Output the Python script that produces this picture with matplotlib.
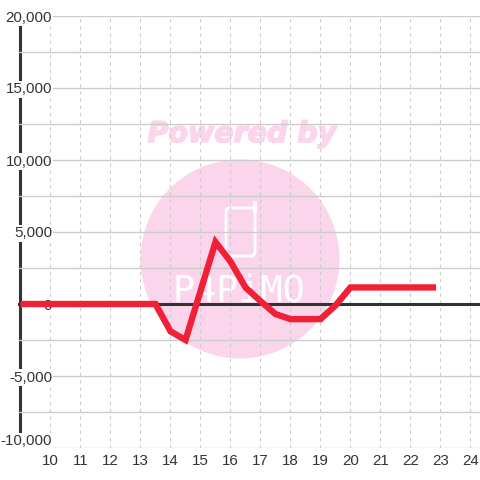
import matplotlib
matplotlib.use("Agg")
import matplotlib.pyplot as plt
import matplotlib.patheffects as pe
from matplotlib.patches import Circle, FancyBboxPatch, Rectangle
from matplotlib.ticker import FuncFormatter
from matplotlib.transforms import Affine2D

# ---- data ----
x_values = [9, 13.5, 14, 14.5, 15.5, 16, 16.5, 17, 17.5, 18, 19, 19.5, 20, 22.85]
y_values = [0, 0, -1900, -2500, 4300, 2950, 1150, 200, -700, -1050, -1050, -100, 1150, 1150]
x_ticks = list(range(10, 25))
y_major = [-10000, -5000, 0, 5000, 10000, 15000, 20000]
y_minor = [-7500, -2500, 2500, 7500, 12500, 17500]

PX = 480
TEXT = "#333333"
GRID = "#cccccc"
PINK = "#fbd5ec"

plt.rcParams["font.family"] = ["Liberation Sans", "DejaVu Sans"]
fig = plt.figure(figsize=(4.8, 4.8), dpi=100, facecolor="white")
ax = fig.add_axes([18 / PX, (PX - 448) / PX, (PX - 18) / PX, 432 / PX])
ax.patch.set_visible(False)

# watermark (below the axes), in pixel coordinates of the figure, y measured from top
pix = Affine2D().scale(1, -1).translate(0, PX) + Affine2D().scale(1 / PX) + fig.transFigure
fig.add_artist(Circle((240, 259), 99.5, transform=pix, facecolor=PINK, edgecolor="none", zorder=-5))
fig.add_artist(FancyBboxPatch((226, 208), 29, 48, boxstyle="round,pad=0,rounding_size=4",
                              transform=pix, facecolor="none", edgecolor="white", linewidth=2, zorder=-4))
fig.add_artist(Rectangle((253, 201), 3.5, 12, transform=pix, facecolor="white", edgecolor="none", zorder=-4))
fig.text(242, 134, "Powered by", transform=pix, color=PINK, fontsize=20.5, fontweight="bold",
         fontstyle="italic", family="DejaVu Sans", ha="center", va="center", zorder=-4,
         path_effects=[pe.withStroke(linewidth=1.2, foreground=PINK)])
fig.text(239, 291, "P4PiMO", transform=pix, color="white", fontsize=26.5,
         family="DejaVu Sans Mono", ha="center", va="center", zorder=-4)

ax.set_xlim(10 - 32.5 / 30, 10 + (PX - 50.5) / 30)
ax.set_ylim(-10000, 20000)
for s in ax.spines.values():
    s.set_visible(False)

ax.set_axisbelow(True)
ax.set_xticks(x_ticks)
ax.set_yticks(y_major)
ax.set_yticks(y_minor, minor=True)
ax.yaxis.set_major_formatter(FuncFormatter(lambda v, _: f"{int(v):,}"))
ax.grid(True, axis="y", which="both", color=GRID, linewidth=1.0)
ax.grid(True, axis="x", which="major", color=GRID, linewidth=0.8, linestyle=(0, (3, 3.5)))
ax.tick_params(axis="both", which="both", length=0, labelsize=10.9, labelcolor=TEXT)
ax.tick_params(axis="y", pad=-24.5)
ax.tick_params(axis="x", pad=4.5)
for lab in ax.get_yticklabels():
    lab.set_bbox(dict(facecolor="white", edgecolor="none", pad=1.0))
ax.get_yticklabels()[0].set_verticalalignment("bottom")

# axis lines: the left one sits under the tick-label boxes, the zero line over the grid
ax.axvline(9, color=TEXT, linewidth=2.2, zorder=0.3)
ax.axhline(0, color=TEXT, linewidth=2.2, zorder=1)

# series
ax.plot(x_values, y_values, color="#f02036", linewidth=4.6, solid_capstyle="butt",
        solid_joinstyle="miter", zorder=3, clip_on=False)

fig.savefig("out.png", dpi=100)
